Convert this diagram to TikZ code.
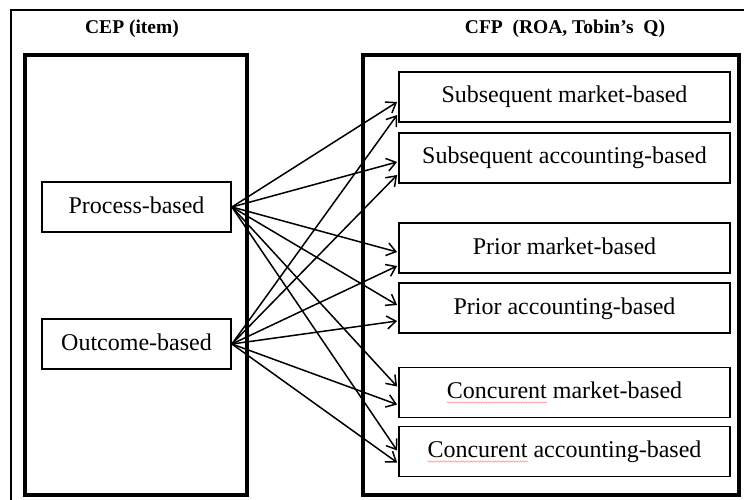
\documentclass[tikz,border=0pt]{standalone}
\usepackage{fontspec}
\setmainfont{Liberation Serif}
\usetikzlibrary{arrows.meta,calc,decorations.pathmorphing}

\begin{document}
\begin{tikzpicture}[x=1pt,y=-1pt,
  frame/.style={draw, line width=1.2pt},
  group/.style={draw, line width=3.5pt, minimum width=#1, minimum height=440pt, inner sep=0pt},
  item/.style={draw, line width=1.8pt, minimum height=50pt, inner sep=0pt,
    text height=17pt, text depth=5pt, font=\fontsize{24}{28}\selectfont},
  leftitem/.style={item, minimum width=189pt},
  rightitem/.style={item, minimum width=331pt},
  heading/.style={anchor=base, font=\bfseries\fontsize{19.5}{22}\selectfont},
  link/.style={line width=1.5pt, -{Straight Barb[length=9pt,width=13pt,line width=1.5pt]}},
  spell/.style={draw=red!70, line width=0.6pt, opacity=0.6, decorate,
    decoration={snake, amplitude=0.7pt, segment length=2.5pt}}
]
\useasboundingbox (0,0) rectangle (744,500);

% outer frame, running off the page on the right and bottom
\begin{scope}
  \clip (0,0) rectangle (744,500);
  \draw[frame] (11,10) rectangle (770,520);
\end{scope}

% two group panels
\node[group=222pt] (cep) at (136,275) {};
\node[group=376pt] (cfp) at (551,275) {};

% panel headings
\node[heading] (cepT) at (132,34) {CEP (item)};
\node[heading] (cfpT) at (565,34) {CFP\ \ (ROA, Tobin’s\ \ Q)};

% CEP measures
\node[leftitem] (pb) at (136.5,207) {Process-based};
\node[leftitem] (ob) at (136.5,344) {Outcome-based};

% CFP measures
\node[rightitem] (sm) at (564.5,97)    {Subsequent market-based};
\node[rightitem] (sa) at (564.5,158)   {Subsequent accounting-based};
\node[rightitem] (pm) at (564.5,248)   {Prior market-based};
\node[rightitem] (pa) at (564.5,308)   {Prior accounting-based};
\node[rightitem] (cm) at (564.5,392.5) {Concurent market-based};
\node[rightitem] (ca) at (564.5,451.5) {Concurent accounting-based};

% links from each CEP measure to every CFP measure
\draw[link] (pb.east) -- ([shift={(-1,5)}]sm.west);
\draw[link] (ob.east) -- ([shift={(-1,18)}]sm.west);
\draw[link] (pb.east) -- ([shift={(-1,4)}]sa.west);
\draw[link] (ob.east) -- ([shift={(-1,17)}]sa.west);
\draw[link] (pb.east) -- ([shift={(-1,4)}]pm.west);
\draw[link] (ob.east) -- ([shift={(-1,18)}]pm.west);
\draw[link] (pb.east) -- ([shift={(-1,-3)}]pa.west);
\draw[link] (ob.east) -- ([shift={(-1,13)}]pa.west);
\draw[link] (pb.east) -- ([shift={(-1,-6)}]cm.west);
\draw[link] (ob.east) -- ([shift={(-1,12)}]cm.west);
\draw[link] (pb.east) -- ([shift={(-1,-1)}]ca.west);
\draw[link] (ob.east) -- ([shift={(-1,11)}]ca.west);

% spell-check marks under "Concurent"
\draw[spell] ($(cm.text)+(0,4)$) -- ++(100,0);
\draw[spell] ($(ca.text)+(0,4)$) -- ++(100,0);
\end{tikzpicture}
\end{document}
